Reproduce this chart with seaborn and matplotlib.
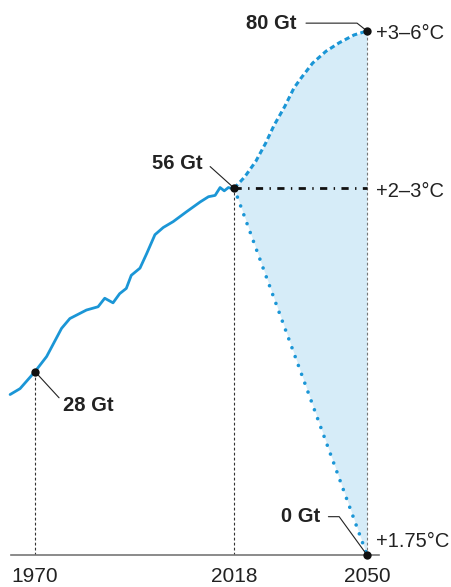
import numpy as np
import pandas as pd
import seaborn as sns
import matplotlib.pyplot as plt

# historical emissions (Gt CO2e)
hist_years = [1964, 1966.4, 1970, 1972.8, 1976.4, 1978.4, 1982.4, 1985.2, 1986.8,
              1988.8, 1990.4, 1992, 1993.2, 1995.3, 1996.9, 1998.9, 2000.9, 2003.3,
              2006.5, 2009.8, 2011.8, 2013.4, 2014.6, 2015.6, 2016.6, 2017.8, 2018]
hist_gt = [24.5, 25.4, 28, 30.3, 34.6, 36.1, 37.4, 37.9, 39.2,
           38.5, 39.9, 40.7, 42.7, 43.8, 46.0, 48.9, 50.0, 50.9,
           52.4, 53.9, 54.7, 54.9, 56.1, 55.6, 56.1, 55.9, 56]

# scenarios to 2050
high_years = [2018, 2020.5, 2023.2, 2025.6, 2027.6, 2030.2, 2032.4, 2034.1,
              2036.9, 2040.1, 2043.3, 2046.9, 2049.5, 2050]
high_gt = [56, 57.7, 60.1, 62.9, 65.6, 68.5, 71.3, 72.8,
           75.1, 76.9, 78.2, 79.4, 79.9, 80]
flat_years = [2018, 2050]
flat_gt = [56, 56]
low_years = [2018, 2050]
low_gt = [56, 0]

tick_years = [1970, 2018, 2050]
scenario_labels = ["+3\u20136\u00b0C", "+2\u20133\u00b0C", "+1.75\u00b0C"]

BLUE = "#1b96d6"
FILL = "#d6ecf8"

sns.set_theme(style="white")
plt.rcParams['font.family'] = ['Liberation Sans', 'DejaVu Sans']

fig = plt.figure(figsize=(4.51, 5.87), dpi=100)
W, H = 451, 587
x0, x1 = 1962, 2053
y0, y1 = 0, 84
left_px = 35 + (x0 - 1970) * 4.15
right_px = 35 + (x1 - 1970) * 4.15
bottom_px = 555
top_px = 555 - y1 * 6.55
ax = fig.add_axes([left_px / W, (H - bottom_px) / H,
                   (right_px - left_px) / W, (bottom_px - top_px) / H])
ax.set_xlim(x0, x1)
ax.set_ylim(y0, y1)

# shaded range between high and low scenario
low_on_high = np.interp(high_years, low_years, low_gt)
ax.fill_between(high_years, low_on_high, high_gt, color=FILL, lw=0, zorder=1)

# guide lines
ax.plot([1970, 1970], [0, 28], color="#333333", lw=0.8, ls=(0, (2.5, 2)), zorder=2)
ax.plot([2018, 2018], [0, 56], color="#333333", lw=0.8, ls=(0, (2.5, 2)), zorder=2)
ax.plot([2050, 2050], [0, 80], color="#777777", lw=0.8, ls=(0, (2.5, 2)), zorder=2)

hist = pd.DataFrame({"year": hist_years, "gt": hist_gt})
sns.lineplot(data=hist, x="year", y="gt", color=BLUE, lw=2.0, ax=ax, zorder=3)
sns.lineplot(x=high_years, y=high_gt, color=BLUE, lw=2.2, ax=ax, zorder=3,
             linestyle=(0, (1.7, 1.1)))
sns.lineplot(x=low_years, y=low_gt, color=BLUE, lw=2.6, ax=ax, zorder=3,
             linestyle=(0, (0.01, 2.6)), dash_capstyle="round")
sns.lineplot(x=flat_years, y=flat_gt, color="#111111", lw=2.0, ax=ax, zorder=3,
             linestyle=(0, (2.6, 2.3, 0.5, 2.3)))

# key points
pts_x = [1970, 2018, 2050, 2050]
pts_y = [28, 56, 80, 0]
ax.scatter(pts_x, pts_y, s=36, color="#111111", zorder=5, clip_on=False, lw=0)

# annotations
lbl = dict(fontsize=14.5, fontweight="bold", color="#222222")
ax.plot([1970, 1975.8], [28, 24.0], color="#222222", lw=0.8, zorder=4)
ax.text(1976.7, 22.8, "28 Gt", ha="left", va="center", **lbl)
ax.plot([2012.2, 2018], [59.3, 56], color="#222222", lw=0.8, zorder=4)
ax.text(2010.4, 59.7, "56 Gt", ha="right", va="center", **lbl)
ax.plot([2035.3, 2047.6, 2050], [81.2, 81.2, 80], color="#222222", lw=0.8, zorder=4)
ax.text(2033.1, 81.2, "80 Gt", ha="right", va="center", **lbl)
ax.plot([2040.7, 2043.3, 2050], [5.85, 5.85, 0], color="#222222", lw=0.8, zorder=4)
ax.text(2038.8, 5.85, "0 Gt", ha="right", va="center", **lbl)

for y, s in zip([79.6, 55.5, 2.0], scenario_labels):
    ax.text(2052.2, y, s, ha="left", va="center", fontsize=14.5, color="#222222",
            clip_on=False)

# axis
for side in ["left", "right", "top"]:
    ax.spines[side].set_visible(False)
ax.spines["bottom"].set_color("#777777")
ax.spines["bottom"].set_linewidth(1.2)
ax.spines["bottom"].set_bounds(1964.2, 2053)
ax.set_yticks([])
ax.set_xticks(tick_years)
ax.set_xticklabels([str(t) for t in tick_years], fontsize=15, color="#222222")
ax.tick_params(axis="x", length=0, pad=9)
ax.set_xlabel("")
ax.set_ylabel("")

fig.savefig("out.png", dpi=100)
